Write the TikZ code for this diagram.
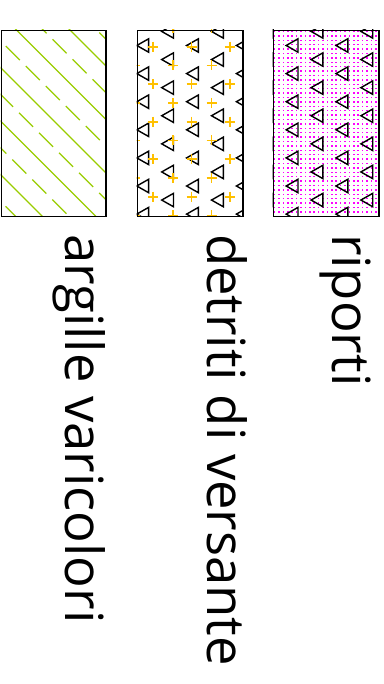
\documentclass[tikz,border=0pt]{standalone}
\usepackage{fontspec}
\setmainfont{Open Sans}
\definecolor{lgreen}{RGB}{153,204,0}
\definecolor{plusgold}{RGB}{255,192,0}
\definecolor{dotmag}{RGB}{255,0,255}
\begin{document}
\begin{tikzpicture}[x=1pt,y=-1pt,
  frame/.style={draw=black,line width=1.4pt},
  gline/.style={draw=lgreen,line width=1.2pt},
  triline/.style={draw=black,line width=1.4pt,line join=miter},
  plusline/.style={draw=plusgold,line width=1.7pt},
  dotfill/.style={fill=dotmag},
  legtext/.style={rotate=-90,anchor=base west,inner sep=0pt,font=\fontsize{52.6}{62}\selectfont}]
\useasboundingbox (0,0) rectangle (383,684);

% ---- box 1: argille varicolori ----
\begin{scope}
  \clip (0.7,30) rectangle (105.3,216);
  \foreach \c in {40,-13.5,-67,-120.5,-174}{
    \draw[gline] ({(30+\c)/2},{(30-\c)/2}) -- ({(340+\c)/2},{(340-\c)/2});
  }
  \foreach \c in {66.75,13.25,-40.25,-93.75,-147.25,-200.75}{
    \foreach \k in {0,...,8}{
      \draw[gline] ({(12+40*\k+\c)/2},{(12+40*\k-\c)/2}) -- ({(40+40*\k+\c)/2},{(40+40*\k-\c)/2});
    }
  }
\end{scope}
\node[frame,minimum width=104.6pt,minimum height=186pt,inner sep=0pt,anchor=north west] (b1) at (0.7,30) {};

% ---- box 2: detriti di versante ----
\begin{scope}
  \clip (136.7,30) rectangle (242.3,216);
  \foreach \k in {-1,...,4}{
    \foreach \j in {-1,...,6}{
      \draw[triline] ({136.8+49.8*\k},{45.5+28.1*\j}) -- ++(11.8,-6.7) -- ++(0,13.4) -- cycle;
      \draw[triline] ({161.7+49.8*\k},{31.45+28.1*\j}) -- ++(11.8,-6.7) -- ++(0,13.4) -- cycle;
    }
  }
  \foreach \j in {-1,...,9}{
    \pgfmathsetmacro{\py}{46.7+18.75*\j}
    \pgfmathsetmacro{\px}{isodd(\j) ? 134.9 : 153.3}
    \foreach \m in {0,...,3}{
      \draw[plusline] ({\px+38.3*\m-5},\py) -- ({\px+38.3*\m+5},\py)
                      ({\px+38.3*\m},{\py-5}) -- ({\px+38.3*\m},{\py+5});
    }
  }
\end{scope}
\node[frame,minimum width=105.6pt,minimum height=186pt,inner sep=0pt,anchor=north west] (b2) at (136.7,30) {};

% ---- box 3: riporti ----
\begin{scope}
  \clip (272.7,30) rectangle (378.3,216);
  \foreach \i in {0,...,24}{
    \foreach \j in {0,...,42}{
      \fill[dotfill] ({273.8+4.4*\i},{30.8+4.4*\j}) rectangle ++(1.5,1.5);
    }
  }
  \foreach \k in {2,...,5}{
    \foreach \j in {-1,...,6}{
      \draw[triline] ({136.8+49.8*\k},{45.5+28.1*\j}) -- ++(11.8,-6.7) -- ++(0,13.4) -- cycle;
      \draw[triline] ({161.7+49.8*\k},{31.45+28.1*\j}) -- ++(11.8,-6.7) -- ++(0,13.4) -- cycle;
    }
  }
\end{scope}
\node[frame,minimum width=105.6pt,minimum height=186pt,inner sep=0pt,anchor=north west] (b3) at (272.7,30) {};

% ---- labels ----
\node[legtext] (t1) at (65,234) {argille varicolori};
\node[legtext] (t2) at (207,234) {detriti di versante};
\node[legtext] (t3) at (332,234) {riporti};
\end{tikzpicture}
\end{document}
